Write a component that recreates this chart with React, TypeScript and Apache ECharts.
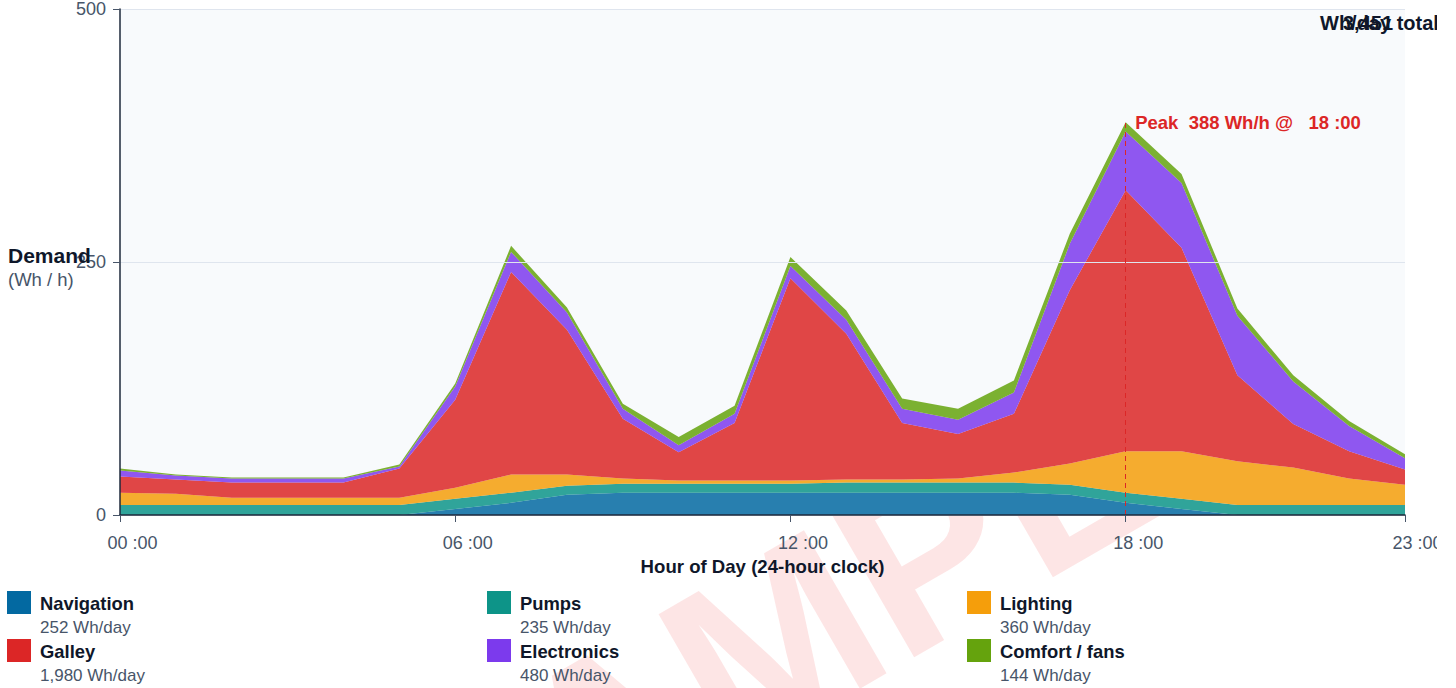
import React, { useEffect, useRef } from "react";
import * as echarts from "echarts";

const hourLabels = ["00","01","02","03","04","05","06","07","08","09","10","11","12","13","14","15","16","17","18","19","20","21","22","23"];
const shownHours = [0, 6, 12, 18, 23];

const seriesNames = ["Navigation", "Pumps", "Lighting", "Galley", "Electronics", "Comfort / fans"];
const seriesColors = ["#0369a1", "#0d9488", "#f59e0b", "#dc2626", "#7c3aed", "#65a30d"];
const legendOrder = ["Navigation", "Pumps", "Lighting", "Galley", "Electronics", "Comfort / fans"];

const navigation = [0,0,0,0,0,0,6,12,20,22,22,22,22,22,22,22,22,20,12,6,0,0,0,0];
const pumps = [10,10,10,10,10,10,10,10,9,9,9,9,9,10,10,10,10,10,10,10,10,10,10,10];
const lighting = [12,11,7,7,7,7,11,18,11,5,3,3,3,3,3,4,10,21,41,47,43,37,26,20];
const galley = [16,14,15,15,15,29,87,200,143,59,28,57,200,144,56,44,58,171,258,201,85,43,27,15];
const electronics = [6,4,4,4,4,2,13,20,17,10,7,9,12,14,14,14,21,46,58,64,59,42,25,11];
const comfort = [2,1,1,1,1,2,3,6,5,5,8,8,9,9,10,11,12,10,9,9,7,6,5,4];

const seriesData = [navigation, pumps, lighting, galley, electronics, comfort];

const yTicks = [0, 250, 500];

const FONT = "'Liberation Sans', Arial, Helvetica, sans-serif";

export default function App() {
  const ref = useRef<HTMLDivElement>(null);

  useEffect(() => {
    if (!ref.current) return;
    const chart = echarts.init(ref.current, undefined, { renderer: "svg" });

    const sums = seriesData.map((d) => d.reduce((a, b) => a + b, 0));
    const grand = sums.reduce((a, b) => a + b, 0);
    const totals = hourLabels.map((_, i) => seriesData.reduce((a, d) => a + d[i], 0));
    let peakIdx = 0;
    totals.forEach((t, i) => { if (t > totals[peakIdx]) peakIdx = i; });
    const peakVal = totals[peakIdx];
    const fmtHour = (h: string) => `${h} :00`;

    const series: any[] = seriesNames.map((name, i) => ({
      name,
      type: "line",
      stack: "total",
      data: seriesData[i],
      symbol: "none",
      lineStyle: { width: 0 },
      areaStyle: { color: seriesColors[i], opacity: 0.85 },
      itemStyle: { color: seriesColors[i] },
      z: 3,
    }));

    const last = series[series.length - 1];
    last.markLine = {
      silent: true,
      symbol: "none",
      lineStyle: { color: "#dc2626", type: [5, 4], width: 1 },
      label: { show: false },
      data: [[{ coord: [hourLabels[peakIdx], 0] }, { coord: [hourLabels[peakIdx], peakVal] }]],
    };
    last.markPoint = {
      silent: true,
      symbol: "circle",
      symbolSize: 1,
      itemStyle: { color: "rgba(0,0,0,0)" },
      label: {
        show: true,
        position: "right",
        distance: 9,
        formatter: `Peak  ${peakVal} Wh/h @   ${fmtHour(hourLabels[peakIdx])}`,
        color: "#dc2626",
        fontWeight: "bold",
        fontSize: 18.5,
        fontFamily: FONT,
      },
      data: [{ coord: [hourLabels[peakIdx], peakVal] }],
    };

    const legendGraphics: any[] = [];
    legendOrder.forEach((name, k) => {
      const i = seriesNames.indexOf(name);
      const col = k % 3;
      const row = Math.floor(k / 3);
      const x = 7 + col * 480;
      const y = 591 + row * 48;
      legendGraphics.push({
        type: "rect",
        shape: { x, y, width: 24, height: 23 },
        style: { fill: seriesColors[i] },
      });
      legendGraphics.push({
        type: "text",
        x: x + 33,
        y: y + 12,
        style: {
          text: name,
          fill: "#0f172a",
          font: `bold 18.4px ${FONT}`,
          textVerticalAlign: "middle",
        },
      });
      legendGraphics.push({
        type: "text",
        x: x + 33,
        y: y + 36,
        style: {
          text: `${sums[i].toLocaleString("en-US")} Wh/day`,
          fill: "#475569",
          font: `17px ${FONT}`,
          textVerticalAlign: "middle",
        },
      });
    });

    chart.setOption({
      animation: false,
      textStyle: { fontFamily: FONT },
      grid: {
        left: 120,
        right: 32,
        top: 9,
        bottom: 173,
        show: true,
        backgroundColor: "#f8fafc",
        borderWidth: 0,
        containLabel: false,
        outerBoundsMode: "none",
        z: 1,
      },
      xAxis: {
        type: "category",
        boundaryGap: false,
        data: hourLabels,
        name: "Hour of Day (24-hour clock)",
        nameLocation: "middle",
        nameGap: 42,
        nameTextStyle: { color: "#0f172a", fontWeight: "bold", fontSize: 18.6, fontFamily: FONT },
        axisLine: { lineStyle: { color: "#1e293b", width: 1.5 } },
        axisTick: {
          length: 7,
          lineStyle: { color: "#475569" },
          interval: (idx: number) => shownHours.includes(idx),
        },
        axisLabel: {
          interval: (idx: number) => shownHours.includes(idx),
          formatter: (v: string) => fmtHour(v),
          color: "#475569",
          fontSize: 18,
          margin: 19,
          padding: [0, 0, 0, 25],
          fontFamily: FONT,
          hideOverlap: false,
        },
        splitLine: { show: false },
        z: 5,
      },
      yAxis: {
        type: "value",
        min: yTicks[0],
        max: yTicks[yTicks.length - 1],
        interval: yTicks[1] - yTicks[0],
        axisLine: { show: true, lineStyle: { color: "#1e293b", width: 1.5 } },
        axisTick: { show: true, length: 7, lineStyle: { color: "#475569" } },
        axisLabel: { color: "#475569", fontSize: 18, margin: 14, fontFamily: FONT },
        splitLine: { show: true, lineStyle: { color: "#dfe5ee", width: 1 } },
        z: 5,
      },
      series,
      graphic: [
        {
          type: "text",
          z: -10,
          x: 830,
          y: 610,
          rotation: Math.PI / 6,
          style: {
            text: "SAMPLE",
            fill: "rgba(239, 68, 68, 0.14)",
            font: `bold 240px ${FONT}`,
            textAlign: "center",
            textVerticalAlign: "middle",
          },
        },
        {
          type: "text",
          x: 8,
          y: 255,
          z: 10,
          style: { text: "Demand", fill: "#0f172a", font: `bold 21px ${FONT}`, textVerticalAlign: "middle" },
        },
        {
          type: "text",
          x: 8,
          y: 279,
          z: 10,
          style: { text: "(Wh / h)", fill: "#475569", font: `18.5px ${FONT}`, textVerticalAlign: "middle" },
        },
        {
          type: "text",
          x: 1320,
          y: 23,
          z: 10,
          style: { text: "Wh/day total", fill: "#0f172a", font: `bold 20px ${FONT}`, textVerticalAlign: "middle" },
        },
        {
          type: "text",
          x: 1343,
          y: 23,
          z: 10,
          style: { text: grand.toLocaleString("en-US"), fill: "#0f172a", font: `bold 20px ${FONT}`, textVerticalAlign: "middle" },
        },
        ...legendGraphics,
      ],
    });

    return () => chart.dispose();
  }, []);

  return (
    <div
      ref={ref}
      style={{ position: "fixed", left: 0, top: 0, width: 1437, height: 688, background: "#ffffff" }}
    />
  );
}
